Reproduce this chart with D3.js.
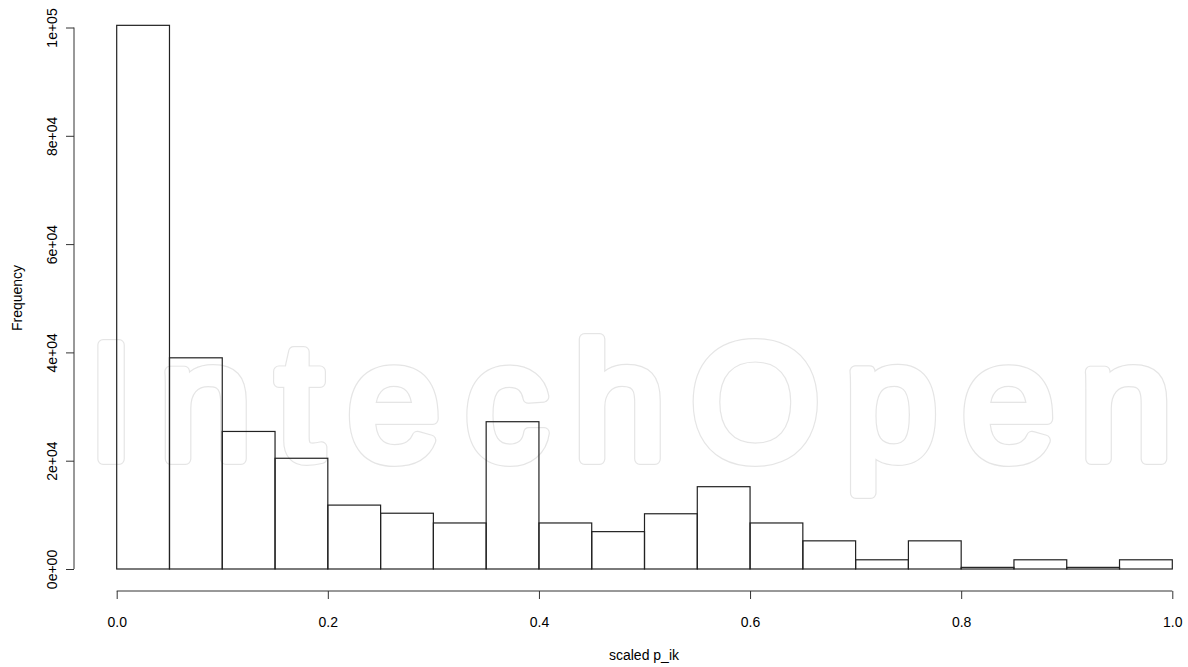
<!DOCTYPE html>
<html>
<head>
<meta charset="utf-8">
<script src="https://cdn.jsdelivr.net/npm/d3@7"></script>
<style>
  body { margin: 0; background: #fff; }
  text { font-family: "Liberation Sans", Arial, sans-serif; fill: #000; }
</style>
</head>
<body>
<div id="vis1"></div>
<script>
const FRAME_WIDTH = 1188;
const FRAME_HEIGHT = 667;

// histogram bins of scaled p_ik (width 0.05)
const binStarts = [0.00, 0.05, 0.10, 0.15, 0.20, 0.25, 0.30, 0.35, 0.40, 0.45,
                   0.50, 0.55, 0.60, 0.65, 0.70, 0.75, 0.80, 0.85, 0.90, 0.95];
const counts = [100400, 39000, 25400, 20450, 11800, 10300, 8500, 27200, 8500, 6900,
                10200, 15200, 8500, 5200, 1700, 5200, 300, 1700, 300, 1700];
const xTicks = [0, 0.2, 0.4, 0.6, 0.8, 1.0];
const yTicks = [0, 20000, 40000, 60000, 80000, 100000];
const yTickLabels = ["0e+00", "2e+04", "4e+04", "6e+04", "8e+04", "1e+05"];
const BIN_WIDTH = 0.05;

const FRAME1 = d3.select("#vis1")
  .append("svg")
    .attr("width", FRAME_WIDTH)
    .attr("height", FRAME_HEIGHT);

const xScale = d3.scaleLinear().domain([0, 1]).range([116.7, 1172.3]);
const yScale = d3.scaleLinear().domain([0, 100000]).range([569, 27.5]);

// faint publisher watermark (outlined letters), drawn behind the bars
const wm = FRAME1.append("g");
[["#e5e5e5", 12], ["#fff", 9.6]].forEach(([col, w]) => {
  wm.append("text")
    .attr("x", 88).attr("y", 459)
    .attr("textLength", 1084)
    .attr("lengthAdjust", "spacing")
    .style("font-size", "166px")
    .style("fill", "#fff")
    .style("stroke", col)
    .style("stroke-width", w)
    .style("stroke-linejoin", "round")
    .text("IntechOpen");
});

// bars
FRAME1.selectAll(".bar")
  .data(binStarts)
  .enter()
  .append("rect")
    .attr("x", (d) => xScale(d))
    .attr("y", (d, i) => yScale(counts[i]))
    .attr("width", (d) => xScale(d + BIN_WIDTH) - xScale(d))
    .attr("height", (d, i) => yScale(0) - yScale(counts[i]))
    .attr("fill", "none")
    .attr("stroke", "#222")
    .attr("stroke-width", 1.2);

// x axis
const xAxis = FRAME1.append("g")
  .attr("transform", "translate(0,591)")
  .call(d3.axisBottom(xScale).tickValues(xTicks).tickFormat(d3.format(".1f")).tickSizeOuter(0).tickSize(8).tickPadding(18));
xAxis.select(".domain").attr("d", "M" + xScale(0) + ",0H" + xScale(1)).attr("stroke", "#333");
xAxis.selectAll(".tick line").attr("stroke", "#333");
xAxis.selectAll("text").style("font-size", "14px").attr("fill", "#000");

// y axis
const yAxis = FRAME1.append("g")
  .attr("transform", "translate(74,0)")
  .call(d3.axisLeft(yScale).tickValues(yTicks).tickFormat((d, i) => yTickLabels[i]).tickSizeOuter(0).tickSize(8));
yAxis.select(".domain").attr("d", "M0," + yScale(0) + "V" + yScale(100000)).attr("stroke", "#333");
yAxis.selectAll(".tick line").attr("stroke", "#333");
yAxis.selectAll("text")
  .style("font-size", "14px")
  .attr("fill", "#000")
  .attr("x", null).attr("dy", null)
  .attr("text-anchor", "middle")
  .attr("transform", "translate(-17,0) rotate(-90)");

// axis titles
FRAME1.append("text")
  .attr("x", 644).attr("y", 660)
  .attr("text-anchor", "middle")
  .style("font-size", "14px")
  .text("scaled p_ik");

FRAME1.append("text")
  .attr("transform", "translate(22,298) rotate(-90)")
  .attr("text-anchor", "middle")
  .style("font-size", "14px")
  .text("Frequency");
</script>
</body>
</html>
